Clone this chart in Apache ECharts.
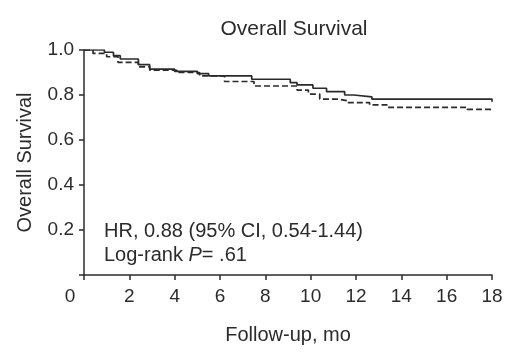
<!DOCTYPE html>
<html>
<head>
<meta charset="utf-8">
<script src="https://cdn.jsdelivr.net/npm/echarts@6/dist/echarts.min.js"></script>
<style>
  html, body { margin: 0; padding: 0; background: #fff; }
  #chart-container { width: 520px; height: 354px; }
</style>
</head>
<body>
<div id="chart-container"></div>
<script>
// Kaplan-Meier steps: [month, survival]
const solidArm = [
    [0, 1.0], [0.9, 0.99], [1.3, 0.975], [1.6, 0.96], [2.4, 0.935], [2.9, 0.915],
    [4.0, 0.905], [5.0, 0.895], [5.5, 0.885], [7.4, 0.87], [9.1, 0.855], [9.4, 0.845],
    [10.1, 0.83], [10.7, 0.815], [11.5, 0.8], [11.9, 0.792], [12.7, 0.782], [18, 0.782], [18, 0.77]
];
const dashedArm = [
    [0, 1.0], [0.4, 0.985], [1.0, 0.97], [1.5, 0.945], [2.4, 0.925], [2.9, 0.91],
    [4.1, 0.9], [5.1, 0.885], [6.2, 0.86], [7.5, 0.84], [9.4, 0.822], [9.9, 0.804],
    [10.4, 0.782], [11.2, 0.775], [11.6, 0.766], [12.6, 0.756], [13.4, 0.745],
    [16.9, 0.736], [18, 0.736]
];
const xTicks = [0, 2, 4, 6, 8, 10, 12, 14, 16, 18];
const yTicks = [0, 0.2, 0.4, 0.6, 0.8, 1.0];
const hrText = 'HR, 0.88 (95% CI, 0.54-1.44)';

const FONT = '"Liberation Sans", Arial, sans-serif';
const INK = '#2b2b2b';

const chart = echarts.init(document.getElementById('chart-container'));

const option = {
    animation: false,
    title: {
        text: 'Overall Survival',
        left: 289,
        textAlign: 'center',
        top: 14,
        textStyle: {fontFamily: FONT, fontSize: 21, fontWeight: 'normal', color: INK}
    },
    grid: {left: 84, right: 28, top: 50, bottom: 79},
    xAxis: {
        type: 'value',
        min: xTicks[0],
        max: xTicks[xTicks.length - 1],
        interval: 2,
        name: 'Follow-up, mo',
        nameLocation: 'middle',
        nameGap: 50,
        nameTextStyle: {fontFamily: FONT, fontSize: 20, color: INK},
        axisLine: {lineStyle: {color: INK, width: 1.5}},
        axisTick: {show: true, length: 5, lineStyle: {color: INK, width: 1.5}},
        splitLine: {show: false},
        axisLabel: {
            margin: 12,
            fontFamily: FONT, fontSize: 19, color: INK,
            formatter: v => v === 0 ? '{z|0}' : String(v),
            rich: {z: {fontFamily: FONT, fontSize: 19, color: INK, padding: [0, 28, 0, 0]}}
        }
    },
    yAxis: {
        type: 'value',
        min: yTicks[0],
        max: yTicks[yTicks.length - 1],
        interval: 0.2,
        name: 'Overall Survival',
        nameLocation: 'middle',
        nameGap: 49,
        nameTextStyle: {fontFamily: FONT, fontSize: 20, color: INK},
        axisLine: {show: true, lineStyle: {color: INK, width: 1.5}},
        axisTick: {show: true, length: 5, lineStyle: {color: INK, width: 1.5}},
        splitLine: {show: false},
        axisLabel: {
            margin: 10,
            fontFamily: FONT, fontSize: 19, color: INK,
            formatter: v => v === 0 ? '' : v.toFixed(1)
        }
    },
    graphic: [
        {
            type: 'text', left: 104, top: 221,
            style: {text: hrText, font: '20px ' + FONT, fill: INK}
        },
        {
            type: 'text', left: 104, top: 245,
            style: {
                text: 'Log-rank {i|P}= .61',
                font: '20px ' + FONT, fill: INK,
                rich: {i: {fontStyle: 'italic', fontFamily: FONT, fontSize: 20, fill: INK}}
            }
        }
    ],
    series: [
        {
            type: 'line', step: 'end', data: solidArm, symbol: 'none',
            lineStyle: {color: INK, width: 1.7}
        },
        {
            type: 'line', step: 'end', data: dashedArm, symbol: 'none',
            lineStyle: {color: INK, width: 1.7, type: [6, 3]}
        }
    ]
};

option && chart.setOption(option, true);
</script>
</body>
</html>
